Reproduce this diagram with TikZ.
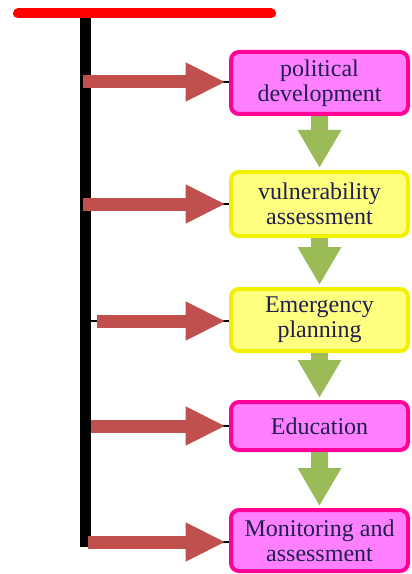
\documentclass[tikz,border=0pt]{standalone}
\usepackage{fontspec}
\setmainfont{Liberation Serif}
\usetikzlibrary{arrows.meta}
\definecolor{pinkfill}{HTML}{FF80FF}
\definecolor{pinkline}{HTML}{FF0099}
\definecolor{yelfill}{HTML}{FFFF80}
\definecolor{yelline}{HTML}{F0F000}
\definecolor{redarrow}{HTML}{C0504D}
\definecolor{greenarrow}{HTML}{9BBB59}
\definecolor{txt}{HTML}{1F1F4F}
\begin{document}
\begin{tikzpicture}[x=0.75pt,y=-0.75pt,
  box/.style={rectangle, rounded corners=6pt, line width=3pt, minimum width=132.75pt,
    align=center, inner sep=0pt, text=txt, font=\fontsize{18}{19}\selectfont},
  pinkbox/.style={box, draw=pinkline, fill=pinkfill},
  yelbox/.style={box, draw=yelline, fill=yelfill},
  conn/.style={black, line width=2pt},
  redarr/.style={redarrow, line width=9.75pt, -{Triangle[length=30pt,width=27pt]}},
  greenarr/.style={greenarrow, line width=12.5pt, -{Triangle[length=28.5pt,width=30.75pt]}}]
\useasboundingbox (0,0) rectangle (411,574);
% boxes
\node[pinkbox, minimum height=46.5pt] (b1) at (319.5,83) {political\\development};
\node[yelbox, minimum height=48pt] (b2) at (319.5,204) {vulnerability\\assessment};
\node[yelbox, minimum height=46.5pt] (b3) at (319.5,320) {Emergency\\planning};
\node[pinkbox, minimum height=36pt] (b4) at (319.5,426) {Education};
\node[pinkbox, minimum height=45.75pt] (b5) at (319.5,540.5) {Monitoring and\\assessment};
% trunk
\coordinate (top) at (85.5,13);
\coordinate (bot) at (85.5,547);
\coordinate (rl) at (18,13.5);
\coordinate (rr) at (271,13.5);
\draw[black, line width=8.25pt] (top) -- (bot);
\draw[red, line width=7.5pt, line cap=round] (rl) -- (rr);
% branch start points
\coordinate (s1) at (83,82);
\coordinate (s2) at (83,204);
\coordinate (s3) at (97,321);
\coordinate (s4) at (91,426);
\coordinate (s5) at (88,542);
\coordinate (k1) at (90,82);
\coordinate (k2) at (90,204);
\coordinate (k3) at (90,321);
\coordinate (k4) at (90,426);
\coordinate (k5) at (90,542);
% black connectors underneath
\foreach \i in {1,...,5}{
  \draw[conn] (k\i) -- (b\i.west |- k\i);
}
% red block arrows
\foreach \i in {1,...,5}{
  \draw[redarr] (s\i) -- ([xshift=-2.5pt]b\i.west |- s\i);
}
% green arrows
\draw[greenarr] (b1.south) -- ([yshift=1.5pt]b2.north);
\draw[greenarr] (b2.south) -- ([yshift=1.5pt]b3.north);
\draw[greenarr] (b3.south) -- ([yshift=1.5pt]b4.north);
\draw[greenarr] (b4.south) -- ([yshift=1.5pt]b5.north);
\end{tikzpicture}
\end{document}
